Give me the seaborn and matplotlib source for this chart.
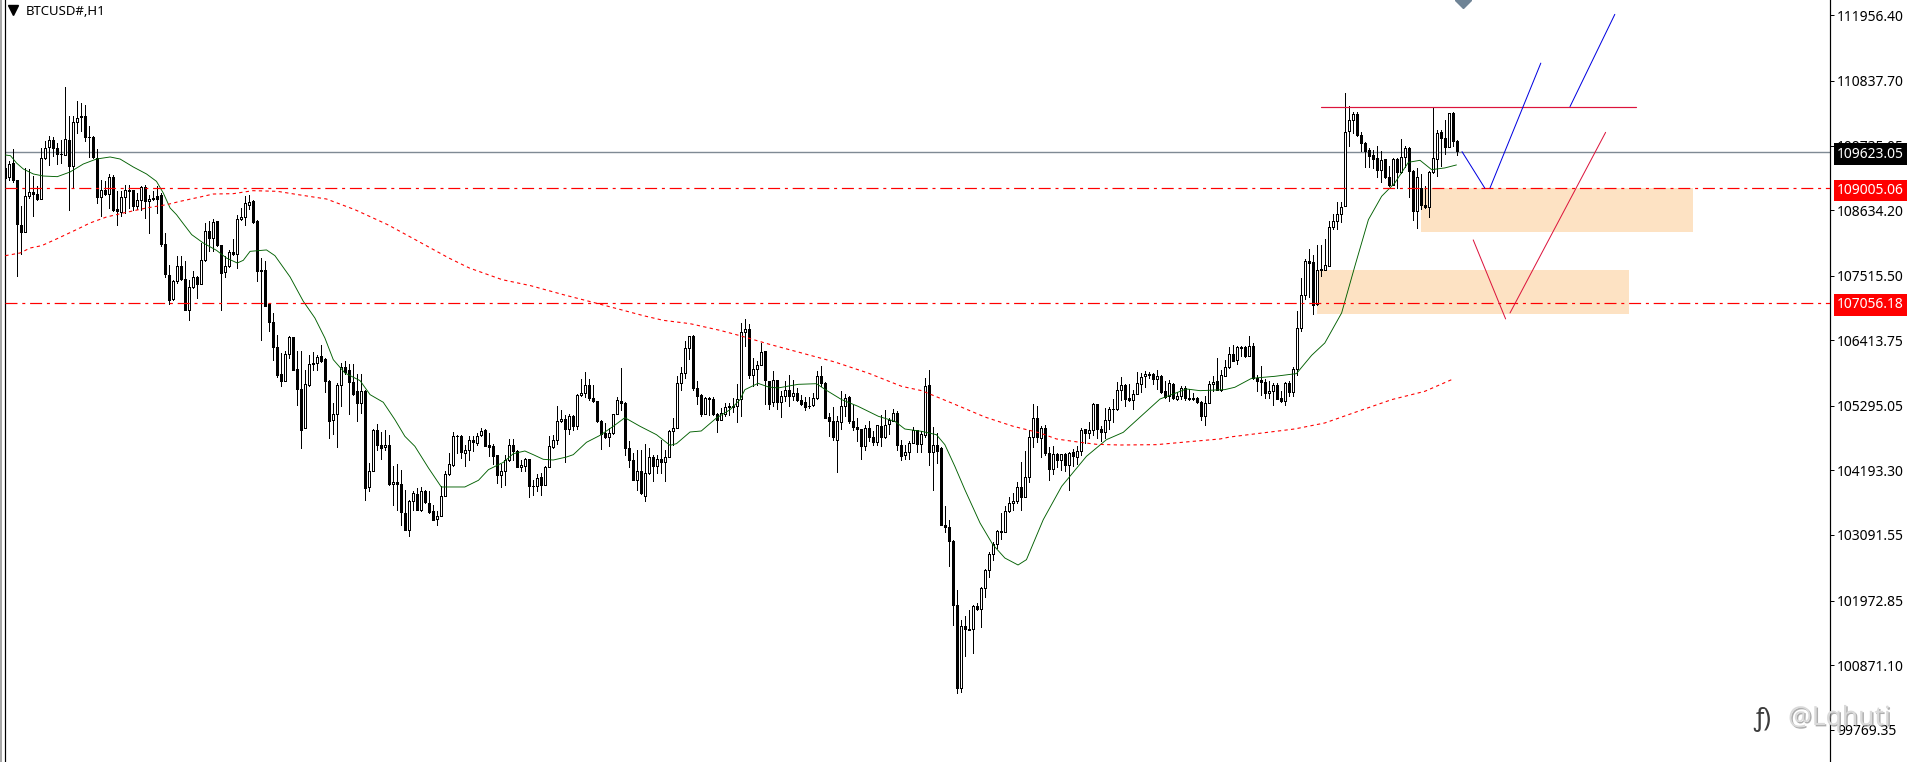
import matplotlib
matplotlib.use('Agg')
import matplotlib.pyplot as plt
import matplotlib.patheffects as pe
from matplotlib.patches import Rectangle
import seaborn as sns
import pandas as pd
import numpy as np

# hourly candles
opens = [
    109352,109198,109437,109153,108385,108254,108869,108948,108914,108823,
    109523,109705,109830,109693,109596,109579,109830,109380,110131,110222,
    110245,109887,109887,109523,108857,108977,108914,109198,108652,108601,
    108857,108982,108982,108709,108800,109028,108789,108846,108880,108897,
    108055,107532,107117,107418,107686,107464,106924,107322,107498,107379,
    107777,108283,108152,108442,108044,107572,107674,107919,107885,108482,
    108516,108726,108783,108443,107618,107618,107038,106731,106304,105844,
    105713,106179,106469,105929,105588,104911,105656,106026,106020,106151,
    106094,105719,105047,105150,105645,105963,105912,105707,105554,105337,
    105554,103904,104177,104888,104632,104592,104632,103961,103995,103961,
    103472,103182,103666,103796,103512,103847,103637,103506,103358,103415,
    103751,104132,104291,104774,104785,104484,104541,104718,104655,104792,
    104888,104627,104615,104461,104109,104183,104364,104626,104529,104251,
    104262,104393,103932,103921,104080,103938,104251,104586,104706,105036,
    105070,104893,105121,104945,105479,105513,105650,105428,105377,105036,
    104825,104757,104831,105155,105377,105343,104575,104376,104023,104183,
    103750,104148,104421,104262,104393,104330,104416,104865,104916,105684,
    105854,106281,106486,105604,105485,105161,105434,105417,105161,105058,
    105161,105291,105297,105297,105411,106548,106605,105815,105923,105985,
    106230,105718,105360,105735,105354,105456,105570,105456,105513,105400,
    105360,105297,105303,105428,105809,105684,105098,105036,104711,105013,
    105286,105451,105036,104939,104899,104603,104922,104763,104672,104956,
    104757,104979,105036,105178,104632,104450,104507,104666,104882,104643,
    104802,105655,104501,104626,104575,103256,103227,102994,101902,100480,
    101538,101493,101493,101874,101834,102181,102488,102772,102931,103159,
    103136,103494,103631,103665,103915,103739,104080,104757,105092,104751,
    104916,104495,104211,104478,104365,104478,104279,104507,104427,104518,
    104893,104825,104876,105331,104905,104842,105058,105235,105235,105559,
    105655,105434,105388,105502,105661,105798,105826,105843,105752,105809,
    105547,105456,105673,105417,105456,105599,105417,105417,105434,105365,
    105115,105343,105673,105718,105570,105810,105952,106179,106071,106282,
    106293,106145,106316,105764,105730,105696,105508,105542,105656,105434,
    105371,105690,105537,105923,106617,107180,107766,107755,107038,107629,
    107618,107686,108346,108443,108568,108699,109978,110177,110280,109921,
    109779,109660,109580,109523,109313,109500,109199,109068,109506,109284,
    109535,109699,109307,108613,109011,108727,108693,109279,109512,109961,
    109859,109711,110285,109819,
]
highs = [
    109892,109466,109682,109153,108709,109352,109335,109210,109051,109693,
    109807,109904,109881,109778,109830,110734,110233,110233,110501,110461,
    110432,110063,109892,109676,109153,109124,109250,109238,108954,108954,
    109068,109068,108982,108925,109039,109068,108897,108954,109039,108925,
    108243,107703,107447,107845,107845,107760,107447,107589,107504,108072,
    108414,108442,108482,108453,108044,107845,107947,108141,108556,108670,
    108869,108897,108812,108471,107817,107760,107049,106879,106509,106196,
    106236,106481,106469,106225,106225,105912,106168,106208,106168,106333,
    106111,105741,105343,105684,106026,106054,106014,106014,105844,105844,
    105571,104319,104900,104985,104848,104888,104803,104263,104308,104206,
    103865,103683,103836,103893,103904,103853,103836,103609,103506,103921,
    104177,104490,104854,104803,104803,104632,104774,104774,104831,104917,
    104900,104831,104649,104461,104308,104455,104728,104728,104546,104376,
    104404,104393,104035,104137,104148,104262,104774,104802,105297,105229,
    105144,105161,105138,105496,105758,105877,105752,105650,105383,105058,
    105001,104916,105161,105445,105940,105354,104689,104490,104546,104546,
    104643,104575,104461,104461,104706,104546,104888,105087,105798,105957,
    106395,106491,106497,105712,105496,105445,105445,105439,105172,105252,
    105343,105343,105434,105667,106708,106781,106685,106110,106053,106366,
    106236,105724,105894,105741,105542,105724,105826,105741,105599,105485,
    105445,105439,105513,105894,105980,105695,105172,105274,105115,105553,
    105496,105468,105314,105087,104899,104973,105030,104859,104973,105144,
    105229,105087,105246,105201,104717,104632,104689,104927,104888,104859,
    105769,105911,104927,104831,104586,103580,103352,103011,102158,101646,
    101703,101817,101902,101931,102198,102510,102795,102966,103182,103466,
    103591,103739,103807,104001,104330,104529,104888,105331,105297,104956,
    104967,104592,104603,104484,104478,104484,104501,104558,104615,104916,
    104905,105024,105337,105331,104945,105257,105269,105411,105701,105786,
    105667,105673,105559,105872,105855,105894,105872,105855,105911,105815,
    105712,105729,105684,105525,105627,105638,105582,105513,105445,105371,
    105468,105712,105798,106111,105911,106083,106293,106338,106321,106310,
    106310,106492,106367,105827,105969,105753,105713,105684,105684,105542,
    105701,105713,105952,106907,107476,107806,107971,107874,108033,108045,
    108141,108443,108573,108767,108767,110632,110416,110302,110302,109961,
    109790,109694,109654,109734,109648,109506,109392,109523,109523,109847,
    109722,109711,109324,109353,109256,109040,109296,110393,110007,109995,
    110177,110291,110302,109836,
]
lows = [
    109153,109153,109119,107504,107890,108254,108840,108527,108812,108823,
    109505,109409,109551,109426,109437,109574,108641,109011,109949,109978,
    109818,109540,109528,108755,108527,108897,108670,108613,108374,108527,
    108584,108670,108630,108652,108630,108499,108243,108800,108584,108015,
    107492,107037,107106,107390,107447,106924,106764,107305,107134,107379,
    107760,107930,107930,108015,106924,107492,107663,107873,107646,108470,
    108385,108652,108419,107419,106424,106992,106566,106082,105787,105627,
    105713,106111,105900,105315,104570,104911,105627,105912,105900,106037,
    105525,104740,104820,104587,105286,105844,105161,105485,105030,105173,
    103683,103836,104177,104547,104388,104547,103950,103609,103523,103267,
    103182,103068,103512,103512,103495,103637,103466,103341,103267,103410,
    103751,104120,104274,104490,104405,104263,104376,104519,104632,104774,
    104604,104433,104308,103978,103910,103949,104347,104376,104245,104177,
    104188,103733,103767,103836,103767,103938,104251,104575,104649,105024,
    104330,104814,104888,104899,105468,105439,105388,105354,105018,104558,
    104746,104603,104819,105155,105229,104461,104251,104023,103853,103796,
    103665,104137,104006,104148,104148,104018,104416,104620,104916,105559,
    105769,106099,105559,105326,105115,105161,105144,105138,104842,105047,
    105115,105144,105183,105013,105127,106321,105769,105638,105656,105985,
    105331,105246,105286,105246,105098,105371,105286,105388,105383,105314,
    105229,105252,105297,105417,105627,105081,104785,104706,104160,104905,
    105127,105001,104888,104689,104393,104535,104689,104632,104632,104603,
    104751,104819,105036,104546,104364,104393,104393,104660,104501,104501,
    104763,104291,103864,104319,103256,103142,102556,101561,100395,100407,
    101021,101465,101078,101817,101515,102033,102368,102658,102869,103028,
    103136,103489,103523,103637,103511,103733,103989,104592,104683,104416,
    104461,104035,104137,104251,104205,104177,103853,104274,104308,104461,
    104660,104751,104791,104746,104689,104746,104905,105019,105229,105388,
    105297,105371,105246,105491,105525,105616,105769,105673,105587,105513,
    105428,105371,105417,105388,105417,105388,105388,105388,105343,105058,
    104962,105343,105542,105559,105542,105798,105940,106054,106003,106139,
    106128,106139,105753,105542,105485,105429,105423,105303,105411,105354,
    105303,105468,105457,105827,106566,107118,107152,106867,107021,107516,
    107607,107686,108318,108312,108426,108699,109722,109950,109893,109637,
    109370,109370,109353,109193,109114,109188,109051,109068,109011,109267,
    109370,108852,108460,108323,108659,108670,108511,109267,109222,109392,
    109591,109711,109722,109569,
]
closes = [
    109181,109426,109142,108391,108254,108874,108948,108903,108823,109523,
    109693,109830,109693,109585,109585,109847,109380,110137,110211,110233,
    109875,109875,109534,108857,108982,108914,109198,108641,108613,108857,
    108982,108960,108709,108812,109028,108783,108823,108823,108823,108050,
    107538,107106,107430,107686,107464,106924,107322,107492,107379,107788,
    108283,108152,108425,108033,107555,107686,107925,107885,108482,108516,
    108755,108778,108425,107590,107590,107004,106719,106293,105827,105713,
    106179,106469,105912,105576,104877,105667,106009,106003,106134,106065,
    105713,105030,105155,105656,105963,105872,105696,105491,105337,105554,
    103887,104189,104888,104621,104570,104627,103955,103995,103955,103478,
    103182,103671,103808,103512,103847,103648,103489,103353,103415,103762,
    104132,104302,104780,104785,104501,104541,104718,104678,104780,104865,
    104615,104587,104433,104109,104183,104370,104626,104518,104256,104291,
    104393,103921,103921,104069,103938,104251,104609,104717,105036,105070,
    104899,105121,104945,105479,105513,105650,105428,105371,105030,104819,
    104757,104831,105155,105394,105337,104569,104364,104035,104188,103801,
    104148,104421,104262,104393,104330,104416,104871,104922,105684,105854,
    106287,106486,105604,105456,105161,105428,105411,105149,105053,105172,
    105274,105269,105274,105411,106560,106611,105815,105923,105991,106213,
    105729,105331,105735,105354,105456,105570,105456,105513,105388,105331,
    105280,105286,105428,105809,105678,105081,105036,104757,105030,105291,
    105434,105030,104928,104893,104603,104910,104757,104672,104962,104757,
    104967,105047,105178,104632,104433,104507,104666,104882,104643,104814,
    105633,104501,104626,104518,103256,103222,102983,101891,100480,101538,
    101493,101476,101879,101828,102187,102499,102772,102943,103153,103136,
    103500,103637,103671,103910,103739,104080,104763,105087,104757,104916,
    104484,104211,104473,104365,104473,104279,104490,104433,104524,104882,
    104825,104888,105331,104893,104842,105058,105246,105246,105565,105655,
    105417,105388,105502,105684,105786,105837,105837,105752,105809,105536,
    105445,105690,105422,105468,105599,105422,105428,105428,105354,105115,
    105343,105673,105695,105570,105820,105958,106179,106065,106304,106293,
    106139,106316,105764,105713,105702,105508,105554,105656,105417,105377,
    105690,105531,105929,106623,107186,107766,107726,107015,107607,107612,
    107698,108352,108449,108568,108693,109967,110171,110274,109910,109773,
    109637,109552,109512,109318,109495,109193,109063,109506,109284,109540,
    109699,109296,108613,109193,108716,108693,109284,109523,109955,109859,
    109711,110285,109819,109643,
]

# green moving average: bar number, price
ma_fast_bar = [
    0,1.3,2.8,4.5,7,9.5,13,16.2,19.5,22.8,26.2,28.7,32,35.3,37.8,39.5,41.2,42.8,44.5,46.6,
    49.5,52.8,55.3,58,59.5,61.2,65.3,67.4,71.2,74.5,77.4,79.9,82,84.9,88.7,91.2,94.5,97.4,
    99.9,102.4,105.8,109,114.9,118.3,120.8,124.5,127,129.9,132,134.5,137,140.3,142,145.3,
    148.7,152,154.9,158.7,162.8,166.2,167.8,171.2,174,177.8,181.2,183.7,184.9,188.2,190.8,
    193.2,198.2,202.8,205.3,209.1,213.2,218.3,222.4,224.9,229.1,232.8,234.9,237.4,239.9,
    243.7,246.9,249.9,253.2,255.3,257.4,259.5,264.1,270.3,275.3,279.5,288.7,295.3,298.7,
    304.9,307.4,311.6,317.4,322.8,326.6,329.9,334.1,337.4,340.8,344.1,347.4,350.8,353.7,
    356.6,359.9,362.8,
]
ma_fast_val = [
    109574,109562,109437,109335,109250,109215,109204,109284,109420,109505,109540,109505,
    109369,109250,109124,108925,108670,108556,108402,108215,108072,107947,107816,107731,
    107777,107930,107954,107857,107493,107078,106793,106452,106082,105855,105724,105485,
    105355,105059,104774,104604,104234,103910,103910,104024,104206,104330,104478,104524,
    104461,104382,104370,104421,104461,104672,104791,104945,105092,104945,104802,104620,
    104649,104848,104865,105087,105229,105400,105570,105678,105616,105599,105661,105672,
    105559,105400,105286,105115,105030,104899,104859,104802,104632,104262,103864,103295,
    102926,102698,102579,102670,103011,103352,103921,104433,104717,104842,105411,105582,
    105553,105571,105611,105764,105798,105844,106156,106367,106879,107675,108471,108869,
    109097,109449,109483,109324,109353,109404,
]
# red dotted moving average
ma_slow_bar = [
    0,3.7,6.2,9.1,12.8,17.4,21.2,25.3,29.5,35.3,40.3,43.7,48.7,52,57,61.9,68,73.2,80.3,87.4,
    95.6,102.8,110.9,116,124.2,131.3,139.5,146.6,154.5,159.5,164.5,171.2,178.7,183.7,190.8,
    199.1,207.4,215.7,224.1,229.1,236.6,244.9,252,258.7,262.8,268.7,272.8,278.7,287.8,297,
    303.7,306.2,322.4,329.9,338.2,346.6,354.9,362,
]
ma_slow_val = [
    107856,107902,107987,108027,108141,108288,108414,108516,108584,108670,108726,108783,
    108857,108908,108914,108965,108954,108897,108823,108641,108385,108118,107816,107646,
    107447,107345,107191,107066,106924,106833,106753,106696,106582,106491,106349,106196,
    106042,105854,105627,105553,105343,105104,104945,104831,104729,104672,104638,104626,
    104632,104689,104729,104763,104900,105002,105201,105400,105542,105753,
]

tick_prices = [111956.40, 110837.70, 109735.05, 108634.20, 107515.50, 106413.75,
               105295.05, 104193.30, 103091.55, 101972.85, 100871.10, 99769.35]
bid = 109623.05
levels = [109005.06, 107056.18]

# drawn objects on the chart
zone_upper = [353.9, 421.9, 108266, 109005]
zone_lower = [327.9, 405.9, 106867, 107618]
resistance = [329, 407.8, 110393]
blue_paths = [([364.2, 369.9], [109631, 109008]),
              ([371.2, 383.9], [109012, 111141]),
              ([391.2, 402.4], [110399, 111973])]
crimson_paths = [([367, 375.1], [108125, 106777]),
                 ([376.2, 400.1], [106879, 109960])]

W, H = 1915, 762
px = 1 / 100 * 72  # one screen pixel in points

sns.set_theme(style='white')
plt.rcParams['font.family'] = ['Noto Sans', 'DejaVu Sans']

fig = plt.figure(figsize=(W / 100, H / 100), dpi=100)
ax = fig.add_axes([4.5 / W, 0, (1830 - 4.5) / W, 1])

df = pd.DataFrame({'open': opens, 'high': highs, 'low': lows, 'close': closes})
df['bar'] = np.arange(len(df))
df['top'] = df[['open', 'close']].max(axis=1)
df['bot'] = df[['open', 'close']].min(axis=1)
up = df[df['close'] >= df['open']]
down = df[df['close'] < df['open']]

for zone in [zone_upper, zone_lower]:
    ax.add_patch(Rectangle((zone[0], zone[2]), zone[1] - zone[0], zone[3] - zone[2],
                           facecolor='#FDE2C3', edgecolor='none', zorder=1))

ax.axhline(bid, color='#7F8A94', lw=1.4 * px, zorder=2)

ax.vlines(df['bar'], df['low'], df['high'], color='black', lw=px, antialiased=False, zorder=3)
ax.bar(up['bar'], up['top'] - up['bot'], bottom=up['bot'], width=0.5,
       facecolor='white', edgecolor='black', linewidth=px, antialiased=False, zorder=4)
ax.bar(down['bar'], down['top'] - down['bot'], bottom=down['bot'], width=0.5,
       facecolor='black', edgecolor='black', linewidth=px, antialiased=False, zorder=4)

sns.lineplot(x=ma_fast_bar, y=ma_fast_val, ax=ax, color='#005F00', linewidth=0.9 * px,
             estimator=None, sort=False, zorder=5)
sns.lineplot(x=ma_slow_bar, y=ma_slow_val, ax=ax, color='#FF0000', linewidth=1.1 * px,
             estimator=None, sort=False, zorder=5, linestyle=(0, (3, 3)))

for level in levels:
    ax.axhline(level, color='#FF0000', lw=1.2 * px, linestyle=(0, (10, 4, 2.5, 4)), zorder=6)

ax.plot(resistance[:2], [resistance[2]] * 2, color='#DC143C', lw=1.2 * px, zorder=6)
for xs, ys in blue_paths:
    ax.plot(xs, ys, color='#0000E0', lw=px, zorder=6)
for xs, ys in crimson_paths:
    ax.plot(xs, ys, color='#DC143C', lw=px, zorder=6)

# gray arrow cut off by the top of the window
ax.plot([364.4], [112218], marker='D', ms=11 * px, color='#6F8496', clip_on=True, zorder=6)

ax.set_xlim(-0.2, 456.2)
ax.set_ylim(99218, 112218)
ax.set_xticks([])
ax.set_xlabel('')
ax.yaxis.tick_right()
ax.set_yticks(tick_prices)
ax.set_yticklabels(['%.2f' % p for p in tick_prices], fontsize=10, color='black')
ax.tick_params(axis='y', length=4 * px, width=px, color='black', pad=2, right=True, left=False)

for name, spine in ax.spines.items():
    spine.set_visible(name in ('left', 'right'))
    spine.set_color('black')
    spine.set_linewidth(1.2 * px)

# price tags on the axis
label_x = 1870.5 / W
for value, bg in [(bid, 'black'), (levels[0], '#FF0000'), (levels[1], '#FF0000')]:
    fig.text(label_x, 1 - ((112218 - value) / 13000 * H + 2.2) / H, '%.2f' % value,
             color='white', fontsize=10, ha='center', va='center', zorder=20,
             bbox=dict(boxstyle='square,pad=0.24', facecolor=bg, edgecolor='none'))

# window chrome
fig.add_artist(Rectangle((0, 0), 2 / W, 1, transform=fig.transFigure, facecolor='#A8A8A8', edgecolor='none'))
fig.text(26 / W, 1 - 11.5 / H, 'BTCUSD#,H1', fontsize=9.5, color='black', ha='left', va='center')
fig.add_artist(plt.Line2D([13 / W], [1 - 10 / H], marker='v', ms=10 * px, color='black',
                          transform=fig.transFigure))

# watermark
fig.text(1788 / W, 1 - 718 / H, '@Lqhuti', fontsize=19, color='#DADADA', ha='left', va='center',
         zorder=21, fontweight='light',
         path_effects=[pe.withSimplePatchShadow(offset=(1, -1), shadow_rgbFace='#8C8C8C', alpha=0.7)])
fig.text(1753 / W, 1 - 719 / H, 'ƒ)', fontsize=18, color='#3C3C3C', ha='left', va='center', zorder=21)

fig.savefig('out.png', dpi=100)
